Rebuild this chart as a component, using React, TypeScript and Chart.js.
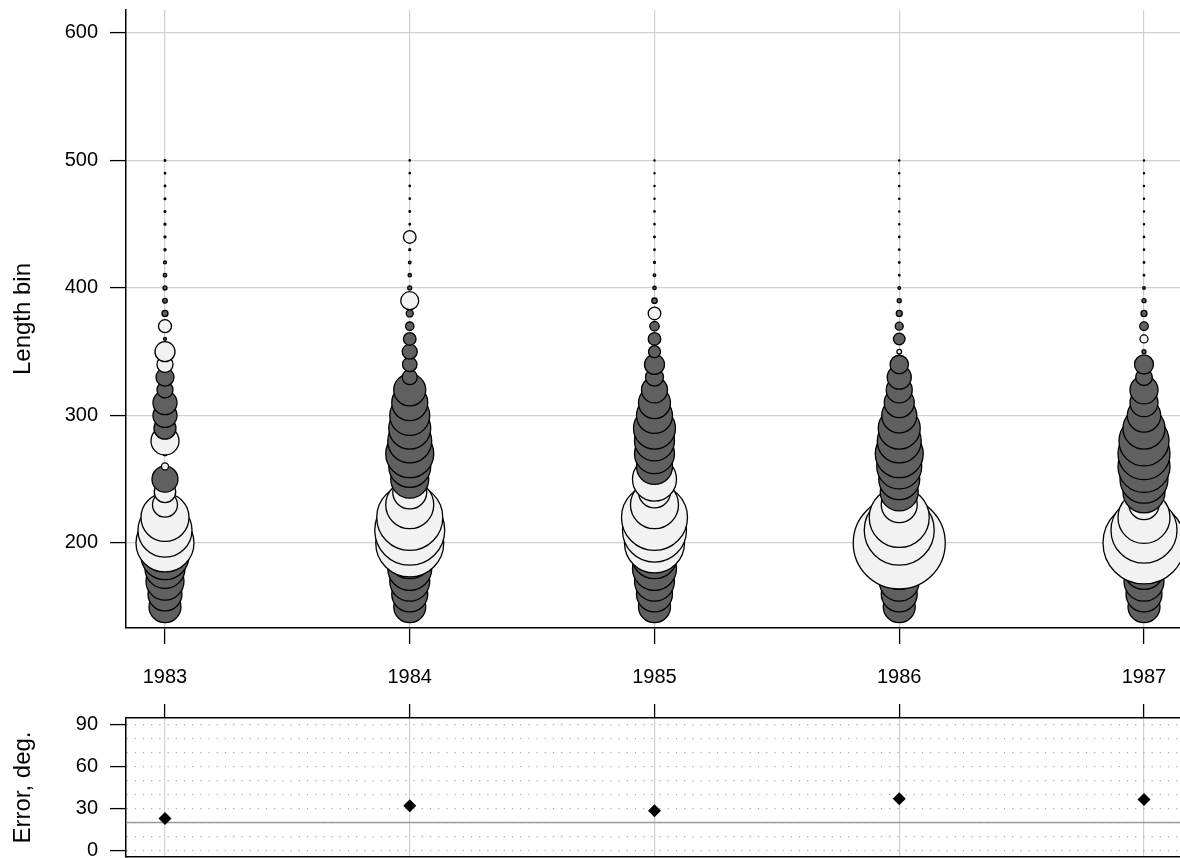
import React, { useEffect, useRef } from 'react';
import { Chart, registerables } from 'chart.js';

Chart.register(...registerables);

// ---------------- data ----------------
const YEARS = [1983, 1984, 1985, 1986, 1987];
const BINS = [
  150, 160, 170, 180, 190, 200, 210, 220, 230, 240, 250, 260, 270, 280, 290, 300, 310, 320,
  330, 340, 350, 360, 370, 380, 390, 400, 410, 420, 430, 440, 450, 460, 470, 480, 490, 500,
];

// residuals per length bin (150 ... 500); negative = dark, positive = light
const RES_1983 = [
  -1.6, -1.7, -1.9, -2.0, -2.4, 2.9, 2.7, 2.4, 1.25, 1.07, -1.3, 0.35, -0.2, 1.4, -1.1, -1.2, -1.2, -0.8,
  -0.9, 0.8, 1.0, -0.15, 0.65, -0.3, -0.23, -0.2, -0.18, -0.15, -0.11, -0.1, -0.1, -0.09, -0.09, -0.08, -0.08, -0.08,
];
const RES_1984 = [
  -1.6, -1.8, -2.0, -2.2, -2.3, 3.4, 3.5, 3.3, 2.4, 1.7, -1.9, -2.1, -2.4, -2.2, -2.1, -2.0, -1.8, -1.6,
  -0.75, -0.72, -0.75, -0.63, -0.42, -0.35, 0.9, -0.2, -0.17, -0.13, -0.1, 0.63, -0.08, -0.08, -0.07, -0.07, -0.07, -0.07,
];
const RES_1985 = [
  -1.6, -1.8, -2.0, -2.2, -2.3, 3.0, 3.2, 3.3, 2.4, 1.6, 2.2, -1.8, -2.0, -2.0, -2.1, -1.8, -1.6, -1.3,
  -0.9, -1.0, -0.6, -0.63, -0.47, 0.63, -0.27, -0.17, -0.13, -0.1, -0.08, -0.08, -0.07, -0.07, -0.06, -0.06, -0.06, -0.06,
];
const RES_1986 = [
  -1.6, -1.8, -2.0, -2.1, -2.0, 4.6, 3.5, 3.0, 1.8, -1.9, -2.05, -2.25, -2.4, -2.2, -2.1, -1.75, -1.5, -1.3,
  -1.2, -0.92, 0.23, -0.58, -0.4, -0.3, -0.2, -0.13, -0.08, -0.08, -0.07, -0.07, -0.06, -0.06, -0.06, -0.06, -0.06, -0.06,
];
const RES_1987 = [
  -1.6, -1.8, -2.0, -2.1, -2.1, 4.1, 3.3, 2.6, 1.5, -2.1, -2.4, -2.6, -2.6, -2.5, -2.1, -1.67, -1.4, -1.4,
  -0.83, -0.95, -0.2, 0.4, -0.43, -0.3, -0.2, -0.13, -0.08, -0.08, -0.07, -0.07, -0.06, -0.06, -0.06, -0.06, -0.06, -0.06,
];
const RESIDUALS = [RES_1983, RES_1984, RES_1985, RES_1986, RES_1987];

const ERRORS = [23, 32, 28.5, 37, 36.5];
const ERROR_REF = 20;

const LENGTH_TICKS = [200, 300, 400, 500, 600];
const ERROR_GRID = [0, 10, 20, 30, 40, 50, 60, 70, 80, 90];
const ERROR_LABEL_STEP = 30;

// ---------------- style ----------------
const FONT = "'Liberation Sans', Arial, Helvetica, sans-serif";
const DARK = '#606060';
const LIGHT = '#f2f2f2';
const GRID = '#d0d0d0';
const RADIUS_PX_PER_UNIT = 10;
const X_MIN = 1982.8407;
const X_MAX = 1987.1471;

const refLinePlugin = {
  id: 'refLine',
  beforeDatasetsDraw(chart: any) {
    const y = chart.scales.y.getPixelForValue(ERROR_REF);
    const { left, right } = chart.chartArea;
    const ctx = chart.ctx;
    ctx.save();
    ctx.strokeStyle = '#9a9a9a';
    ctx.lineWidth = 1.5;
    ctx.beginPath();
    ctx.moveTo(left, y);
    ctx.lineTo(right, y);
    ctx.stroke();
    ctx.restore();
  },
};

export default function App() {
  const topRef = useRef<HTMLCanvasElement | null>(null);
  const botRef = useRef<HTMLCanvasElement | null>(null);

  useEffect(() => {
    Chart.defaults.font.family = FONT;
    Chart.defaults.color = '#000';

    const points: any[] = [];
    YEARS.forEach((yr, i) => {
      BINS.forEach((b, j) => {
        const res = RESIDUALS[i][j];
        points.push({ x: yr, y: b, r: Math.abs(res) * RADIUS_PX_PER_UNIT, res });
      });
    });

    const top = new Chart(topRef.current as HTMLCanvasElement, {
      type: 'bubble',
      data: {
        datasets: [
          {
            data: points,
            backgroundColor: (c: any) => (c.raw && c.raw.res < 0 ? DARK : LIGHT),
            borderColor: '#000',
            borderWidth: 1.3,
            hoverRadius: 0,
          } as any,
        ],
      },
      options: {
        animation: false,
        responsive: false,
        events: [],
        layout: { autoPadding: false, padding: { top: 10, right: 0, bottom: 0, left: 0 } },
        plugins: { legend: { display: false }, tooltip: { enabled: false } },
        scales: {
          x: {
            type: 'linear',
            min: X_MIN,
            max: X_MAX,
            afterBuildTicks: (s: any) => {
              s.ticks = YEARS.map((v) => ({ value: v }));
            },
            afterFit: (s: any) => {
              s.height = 72;
              s.paddingLeft = 0;
              s.paddingRight = 0;
            },
            grid: { color: GRID, lineWidth: 1.2, tickColor: '#000', tickLength: 16, tickWidth: 1.3 },
            border: { color: '#000', width: 1.5 },
            ticks: {
              font: { size: 20 },
              color: '#000',
              padding: 21,
              autoSkip: false,
              maxRotation: 0,
              callback: (v: any) => String(v),
            },
          },
          y: {
            type: 'linear',
            min: 133.3,
            max: 618,
            afterBuildTicks: (s: any) => {
              s.ticks = LENGTH_TICKS.map((v) => ({ value: v }));
            },
            afterFit: (s: any) => {
              s.width = 126;
              s.paddingTop = 0;
              s.paddingBottom = 0;
            },
            grid: { color: GRID, lineWidth: 1.2, tickColor: '#000', tickLength: 16, tickWidth: 1.3 },
            border: { color: '#000', width: 1.5 },
            ticks: { font: { size: 20 }, color: '#000', padding: 12, autoSkip: false, callback: (v: any) => String(v) },
            title: { display: true, text: 'Length bin', font: { size: 24 }, color: '#000', padding: { top: 9, bottom: 0 } },
          },
        },
      } as any,
    });

    const bottom = new Chart(botRef.current as HTMLCanvasElement, {
      type: 'scatter',
      data: {
        datasets: [
          {
            data: YEARS.map((yr, i) => ({ x: yr, y: ERRORS[i] })),
            pointStyle: 'rectRot',
            pointRadius: 6.5,
            backgroundColor: '#000',
            borderColor: '#000',
            borderWidth: 0,
          } as any,
        ],
      },
      options: {
        animation: false,
        responsive: false,
        events: [],
        layout: { autoPadding: false, padding: 0 },
        plugins: { legend: { display: false }, tooltip: { enabled: false } },
        scales: {
          x: {
            type: 'linear',
            position: 'top',
            min: X_MIN,
            max: X_MAX,
            afterBuildTicks: (s: any) => {
              s.ticks = YEARS.map((v) => ({ value: v }));
            },
            afterFit: (s: any) => {
              s.height = 18;
              s.paddingLeft = 0;
              s.paddingRight = 0;
            },
            grid: { color: GRID, lineWidth: 1.2, tickColor: '#000', tickLength: 14, tickWidth: 1.3 },
            border: { color: '#000', width: 1.5 },
            ticks: { display: false },
          },
          xb: {
            type: 'linear',
            position: 'bottom',
            min: X_MIN,
            max: X_MAX,
            afterFit: (s: any) => {
              s.height = 1;
              s.paddingLeft = 0;
              s.paddingRight = 0;
            },
            grid: { display: false },
            border: { color: '#000', width: 1.5 },
            ticks: { display: false },
          },
          y: {
            type: 'linear',
            min: -4.5,
            max: 94.5,
            afterBuildTicks: (s: any) => {
              s.ticks = ERROR_GRID.map((v) => ({ value: v }));
            },
            afterFit: (s: any) => {
              s.width = 126;
              s.paddingTop = 0;
              s.paddingBottom = 0;
            },
            grid: {
              color: '#a8a8a8',
              lineWidth: 1.2,
              tickLength: 16,
              tickWidth: 1.3,
              tickColor: (c: any) =>
                c.tick && c.tick.value % ERROR_LABEL_STEP === 0 ? '#000' : 'rgba(0,0,0,0)',
            },
            border: { color: '#000', width: 1.5, dash: [1.2, 7] },
            ticks: {
              font: { size: 20 },
              color: '#000',
              padding: 12,
              autoSkip: false,
              callback: (v: any) => (v % ERROR_LABEL_STEP === 0 ? String(v) : ''),
            },
            title: { display: true, text: 'Error, deg.', font: { size: 24 }, color: '#000', padding: { top: 9, bottom: 0 } },
          },
        },
      } as any,
      plugins: [refLinePlugin],
    });

    return () => {
      top.destroy();
      bottom.destroy();
    };
  }, []);

  return (
    <div style={{ position: 'fixed', left: 0, top: 0, width: 1180, height: 858, background: '#fff' }}>
      <canvas
        ref={topRef}
        width={1180}
        height={700}
        style={{ position: 'absolute', left: 0, top: 0, width: 1180, height: 700 }}
      />
      <canvas
        ref={botRef}
        width={1180}
        height={158}
        style={{ position: 'absolute', left: 0, top: 700, width: 1180, height: 158 }}
      />
    </div>
  );
}
